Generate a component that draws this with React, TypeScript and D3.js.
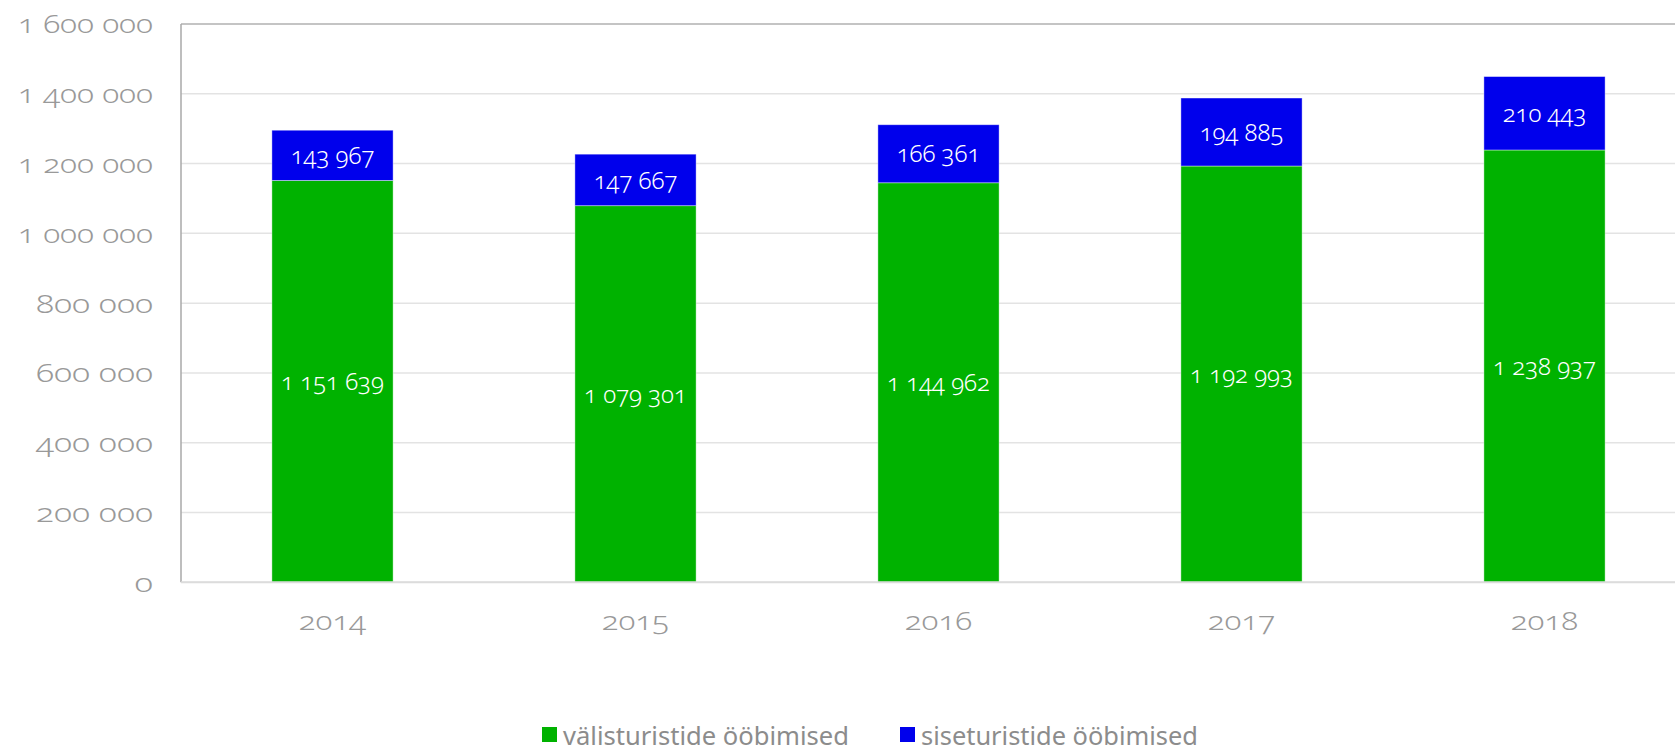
import React from "react";
import * as d3 from "d3";

const years = ["2014", "2015", "2016", "2017", "2018"];
const foreign = [1151639, 1079301, 1144962, 1192993, 1238937];
const domestic = [143967, 147667, 166361, 194885, 210443];
const yTicks = [0, 200000, 400000, 600000, 800000, 1000000, 1200000, 1400000, 1600000];
const seriesNames = ["välisturistide ööbimised", "siseturistide ööbimised"];
const colors = ["#00b200", "#0000ec"];

const W = 1675;
const H = 745;
const left = 181;
const right = 1696;
const top = 24;
const bottom = 582.3;

const fmt = (v: number) => d3.format(",")(v).replace(/,/g, " ");
const FONT = "'Noto Sans', 'Open Sans', sans-serif";

// approximate rendered width of a wide geometric-figure label
const wideWidth = (s: string) =>
  s.split("").reduce((a, c) => a + (c === " " ? 6 : c === "1" ? 12 : 18.5), 0);

export default function App() {
  const x = d3.scaleBand<string>().domain(years).range([left, right]).paddingInner(0.6).paddingOuter(0.3);
  const y = d3.scaleLinear().domain([0, 1600000]).range([bottom, top]);
  const stackData = years.map((yr, i) => ({ year: yr, foreign: foreign[i], domestic: domestic[i] }));
  const stack = d3.stack<any>().keys(["foreign", "domestic"])(stackData);

  return (
    <svg width={W} height={H} style={{ position: "absolute", left: 0, top: 0, background: "#fff" }} fontFamily={FONT}>
      {yTicks.map((t) => (
        <line key={t} x1={left} x2={W} y1={y(t)} y2={y(t)} stroke={t === 1600000 ? "#b0b0b0" : "#e3e3e3"} strokeWidth={1.5} />
      ))}
      <line x1={left} x2={left} y1={top} y2={bottom} stroke="#a8a8a8" strokeWidth={1.5} />
      {yTicks.map((t) => {
        const s = fmt(t);
        return (
          <text key={t} x={153} y={y(t)} dy="0.36em" textAnchor="end" fontSize={26} fontWeight={300} fill="#999"
            textLength={wideWidth(s)} lengthAdjust="spacingAndGlyphs" style={{ fontVariantNumeric: "oldstyle-nums" }}>
            {s}
          </text>
        );
      })}
      {stack.map((s, si) =>
        s.map((d, i) => {
          const bx = x(years[i])!;
          const y0 = y(d[0]);
          const y1 = y(d[1]);
          const v = si === 0 ? foreign[i] : domestic[i];
          return (
            <g key={si + "-" + i}>
              <rect x={bx} y={y1} width={x.bandwidth()} height={y0 - y1} fill={colors[si]} stroke="#ffffff" strokeOpacity={0.5} strokeWidth={0.8} />
              <text x={bx + x.bandwidth() / 2} y={(y0 + y1) / 2} dy="0.36em" textAnchor="middle" fontSize={24} fontWeight={300} fill="#fff" style={{ fontVariantNumeric: "oldstyle-nums" }}>
                {fmt(v)}
              </text>
            </g>
          );
        })
      )}
      <line x1={left} x2={W} y1={bottom} y2={bottom} stroke="#dcdcdc" strokeWidth={2} />
      {years.map((yr) => (
        <text key={yr} x={x(yr)! + x.bandwidth() / 2} y={621} dy="0.36em" textAnchor="middle" fontSize={26} fontWeight={300} fill="#999"
          textLength={wideWidth(yr)} lengthAdjust="spacingAndGlyphs" style={{ fontVariantNumeric: "oldstyle-nums" }}>
          {yr}
        </text>
      ))}
      {seriesNames.map((n, i) => {
        const lx = [542, 900][i];
        const tl = [286, 277][i];
        return (
          <g key={n}>
            <rect x={lx} y={727} width={15} height={15} fill={colors[i]} />
            <text x={lx + 21} y={744.5} fontSize={26} fill="#8c8c8c" textLength={tl} lengthAdjust="spacingAndGlyphs">
              {n}
            </text>
          </g>
        );
      })}
    </svg>
  );
}
